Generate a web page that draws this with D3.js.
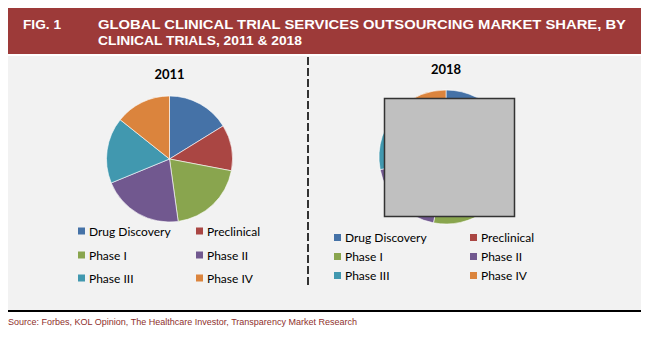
<!DOCTYPE html>
<html>
<head>
<meta charset="utf-8">
<script src="https://cdn.jsdelivr.net/npm/d3@7"></script>
<style>
  body { margin: 0; background: #ffffff; }
  svg { display: block; }
</style>
</head>
<body>
<div id="chart"></div>
<script>
const categories = ["Drug Discovery", "Preclinical", "Phase I", "Phase II", "Phase III", "Phase IV"]
const colors = ["#4572a7", "#aa4643", "#89a54e", "#71588f", "#4198af", "#db843d"]
const values2011 = [16.2, 11.8, 19.8, 21.0, 16.9, 14.3]
const values2018 = [15, 12, 26, 19, 16, 12]
const years = ["2011", "2018"]
const titleLines = ["GLOBAL CLINICAL TRIAL SERVICES OUTSOURCING  MARKET SHARE, BY", "CLINICAL TRIALS, 2011 & 2018"]
const sourceText = "Source: Forbes, KOL Opinion,  The Healthcare Investor, Transparency Market Research"

const W = 650, H = 338

const svg = d3.select("#chart").append("svg")
  .attr("width", W)
  .attr("height", H)

// header band
svg.append("rect")
  .attr("x", 8).attr("y", 8)
  .attr("width", 633).attr("height", 46)
  .attr("fill", "#9d3a39")

svg.append("text")
  .attr("x", 23).attr("y", 28.5)
  .attr("fill", "#ffffff")
  .attr("font-family", "Liberation Sans, Arial, sans-serif")
  .attr("font-weight", "bold")
  .attr("font-size", "13.5px")
  .attr("textLength", 38)
  .attr("lengthAdjust", "spacingAndGlyphs")
  .text("FIG. 1")

svg.selectAll(".title-line")
  .data(titleLines)
  .enter()
  .append("text")
  .attr("class", "title-line")
  .attr("x", 98)
  .attr("y", (d, i) => 28.5 + i * 16)
  .attr("fill", "#ffffff")
  .attr("font-family", "Liberation Sans, Arial, sans-serif")
  .attr("font-weight", "bold")
  .attr("font-size", "13.5px")
  .attr("textLength", (d, i) => i === 0 ? 528 : 204)
  .attr("lengthAdjust", "spacingAndGlyphs")
  .text(d => d)

// plot background
svg.append("rect")
  .attr("x", 8).attr("y", 56)
  .attr("width", 633).attr("height", 254)
  .attr("fill", "#f2f2f2")

svg.append("line")
  .attr("x1", 8).attr("x2", 641)
  .attr("y1", 311).attr("y2", 311)
  .attr("stroke", "#000")
  .attr("stroke-width", 2)

// divider
svg.append("line")
  .attr("x1", 308).attr("x2", 308)
  .attr("y1", 57).attr("y2", 287)
  .attr("stroke", "#333")
  .attr("stroke-width", 2)
  .attr("stroke-dasharray", "8 3")

svg.append("text")
  .attr("x", 8).attr("y", 325)
  .attr("fill", "#8e2f2c")
  .attr("font-family", "Liberation Sans, Arial, sans-serif")
  .attr("font-size", "8.8px")
  .attr("textLength", 349)
  .attr("lengthAdjust", "spacingAndGlyphs")
  .text(sourceText)

const pie = d3.pie().sort(null).value(d => d)

const panels = [
  { year: years[0], values: values2011, cx: 169.5, cy: 159, r: 63, titleY: 79,
    legX: [78, 196], legY: [231, 255, 278] },
  { year: years[1], values: values2018, cx: 446, cy: 157, r: 67, titleY: 74,
    legX: [334, 470], legY: [237.5, 256.5, 275.5] }
]

panels.forEach(p => {
  const g = svg.append("g").attr("transform", `translate(${p.cx},${p.cy})`)
  const arc = d3.arc().innerRadius(0).outerRadius(p.r)

  g.selectAll("path")
    .data(pie(p.values))
    .enter()
    .append("path")
    .attr("d", arc)
    .attr("fill", (d, i) => colors[i])
    .attr("stroke", "#ffffff")
    .attr("stroke-width", 0.6)

  svg.append("text")
    .attr("x", p.cx).attr("y", p.titleY)
    .attr("text-anchor", "middle")
    .attr("font-family", "Lato, Open Sans, sans-serif")
    .attr("font-weight", "bold")
    .attr("font-size", "13px")
    .attr("fill", "#000")
    .text(p.year)

  const leg = svg.selectAll(null)
    .data(categories)
    .enter()
    .append("g")
    .attr("transform", (d, i) => `translate(${p.legX[i % 2]},${p.legY[Math.floor(i / 2)]})`)

  leg.append("rect")
    .attr("x", 0).attr("y", -3.5)
    .attr("width", 7).attr("height", 7)
    .attr("fill", (d, i) => colors[i])

  leg.append("text")
    .attr("x", 11).attr("y", 4.5)
    .attr("font-family", "Lato, Open Sans, sans-serif")
    .attr("font-size", "12px")
    .attr("fill", "#000")
    .text(d => d)
})

// grey box covering the 2018 pie
svg.append("rect")
  .attr("x", 384.5).attr("y", 98.5)
  .attr("width", 130).attr("height", 118)
  .attr("fill", "#c0c0c0")
  .attr("stroke", "#333")
  .attr("stroke-width", 1.5)
</script>
</body>
</html>
